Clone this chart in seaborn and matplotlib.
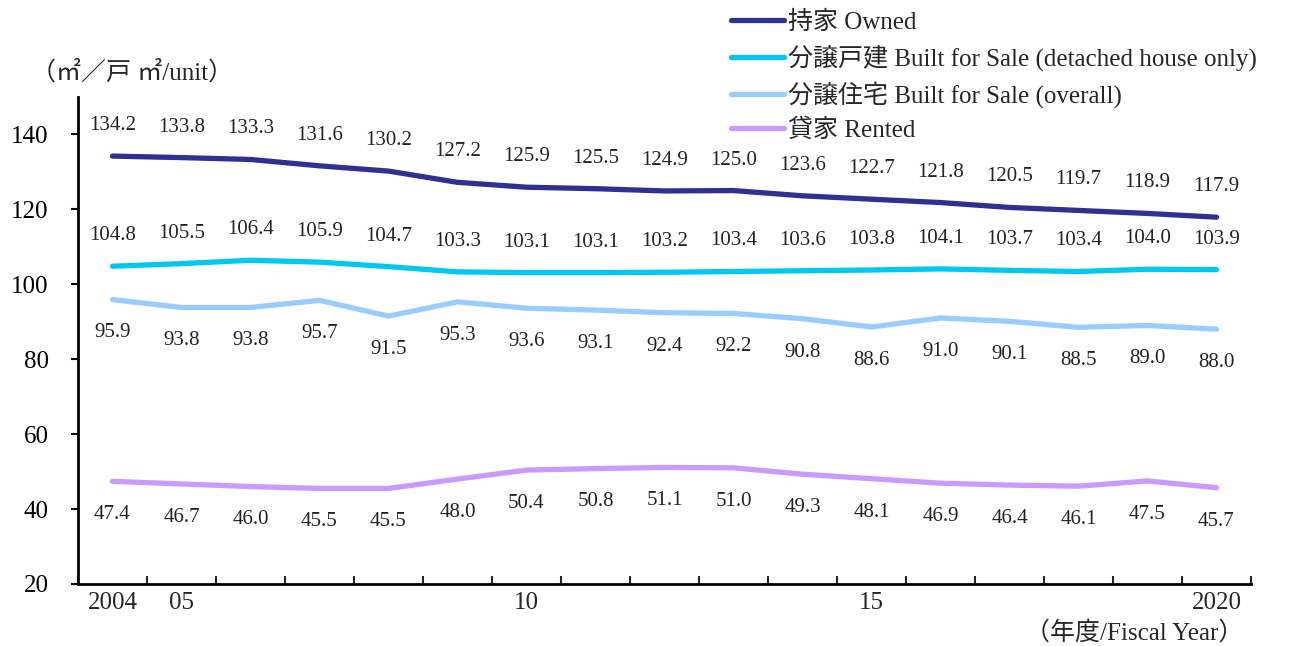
import numpy as np
import pandas as pd
import matplotlib
matplotlib.use("Agg")
import matplotlib.pyplot as plt
import seaborn as sns

years = list(range(2004, 2021))
year_labels = {2004: "2004", 2005: "05", 2010: "10", 2015: "15", 2020: "2020"}

owned = [134.2, 133.8, 133.3, 131.6, 130.2, 127.2, 125.9, 125.5, 124.9,
         125.0, 123.6, 122.7, 121.8, 120.5, 119.7, 118.9, 117.9]
sale_detached = [104.8, 105.5, 106.4, 105.9, 104.7, 103.3, 103.1, 103.1, 103.2,
                 103.4, 103.6, 103.8, 104.1, 103.7, 103.4, 104.0, 103.9]
sale_overall = [95.9, 93.8, 93.8, 95.7, 91.5, 95.3, 93.6, 93.1, 92.4,
                92.2, 90.8, 88.6, 91.0, 90.1, 88.5, 89.0, 88.0]
rented = [47.4, 46.7, 46.0, 45.5, 45.5, 48.0, 50.4, 50.8, 51.1,
          51.0, 49.3, 48.1, 46.9, 46.4, 46.1, 47.5, 45.7]

series_names = ["持家 Owned",
                "分譲戸建 Built for Sale (detached house only)",
                "分譲住宅 Built for Sale (overall)",
                "貸家 Rented"]
series_values = [owned, sale_detached, sale_overall, rented]
series_colors = ["#2E3192", "#00C8F0", "#99CCFF", "#CC99FF"]
label_above = [True, True, False, False]

sns.set_theme(style="white")
plt.rcParams["font.family"] = ["Liberation Serif", "Noto Sans CJK JP"]
plt.rcParams["axes.unicode_minus"] = False

rows = []
for name, vals in zip(series_names, series_values):
    for i, (yr, v) in enumerate(zip(years, vals)):
        rows.append({"idx": i, "year": yr, "series": name, "value": v})
df = pd.DataFrame(rows)

fig = plt.figure(figsize=(13.02, 6.46), dpi=100)
ax = fig.add_axes([0.0599, 0.096, 0.9009, 0.754])

sns.lineplot(data=df, x="idx", y="value", hue="series", hue_order=series_names,
             palette=series_colors, linewidth=3.8, ax=ax, legend=True)

# value labels
for vals, above in zip(series_values, label_above):
    for i, v in enumerate(vals):
        ax.annotate(f"{v:.1f}", xy=(i, v), xytext=(0, 22 if above else -24),
                    textcoords="offset points", ha="center", va="center",
                    fontsize=15, color="#222222")

ax.set_xlim(-0.5, len(years) - 0.5)
ax.set_ylim(20, 150)
ax.set_yticks(range(20, 141, 20))
ax.tick_params(axis="y", direction="out", length=5, width=1.5, labelsize=18,
               pad=16, colors="black", left=True)

# boundary ticks (major) and centred year labels (minor)
ax.set_xticks(np.arange(-0.5, len(years), 1.0))
ax.set_xticklabels([])
ax.set_xticks(range(len(years)), minor=True)
ax.set_xticklabels([year_labels.get(y, "") for y in years], minor=True)
ax.tick_params(axis="x", which="major", direction="in", length=6, width=1.5,
               bottom=True)
ax.tick_params(axis="x", which="minor", length=0, labelsize=18, pad=6)

for side in ["top", "right"]:
    ax.spines[side].set_visible(False)
for side in ["left", "bottom"]:
    ax.spines[side].set_color("black")
    ax.spines[side].set_linewidth(2)

ax.set_xlabel("")
ax.set_ylabel("")

fig.text(0.024, 0.888, "（㎡／戸 ㎡/unit）", fontsize=18, ha="left", va="center")
fig.text(0.955, 0.020, "（年度/Fiscal Year）", fontsize=18, ha="right", va="center")

handles, labels = ax.get_legend_handles_labels()
ax.legend(handles, labels, loc="upper left", bbox_to_anchor=(0.554, 0.999),
          bbox_transform=fig.transFigure, frameon=False, fontsize=18,
          handlelength=2.1, handletextpad=0.15, labelspacing=0.42,
          borderaxespad=0.0)

fig.savefig("out.png", dpi=100)
